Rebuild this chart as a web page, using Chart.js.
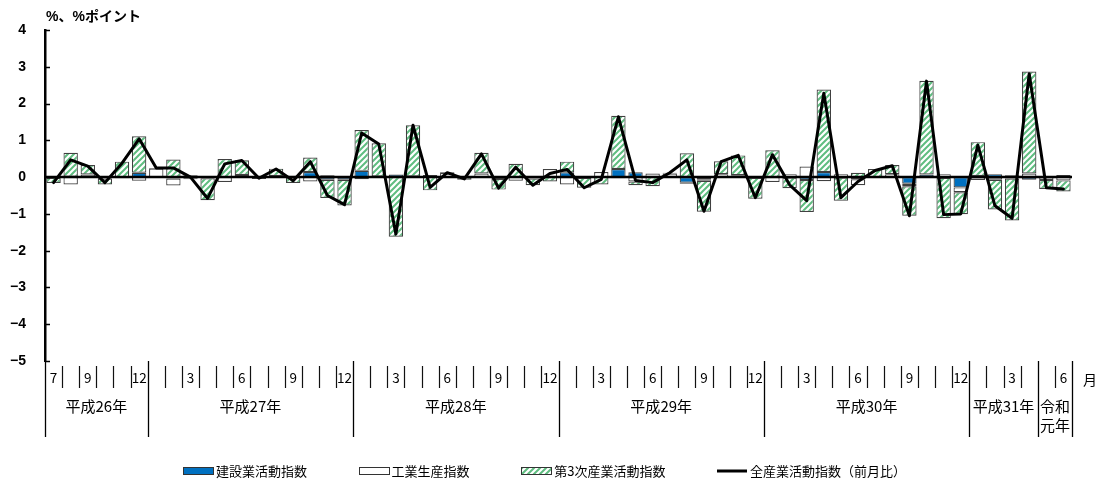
<!DOCTYPE html>
<html><head><meta charset="utf-8">
<script src="https://cdn.jsdelivr.net/npm/chart.js@4/dist/chart.umd.min.js"></script>
<style>html,body{margin:0;padding:0;background:#fff;}canvas{display:block;}</style>
</head><body>
<canvas id="c" width="1104" height="484"></canvas>
<script>
// ---- data ----
const categories = [
 '2014/7','2014/8','2014/9','2014/10','2014/11','2014/12',
 '2015/1','2015/2','2015/3','2015/4','2015/5','2015/6','2015/7','2015/8','2015/9','2015/10','2015/11','2015/12',
 '2016/1','2016/2','2016/3','2016/4','2016/5','2016/6','2016/7','2016/8','2016/9','2016/10','2016/11','2016/12',
 '2017/1','2017/2','2017/3','2017/4','2017/5','2017/6','2017/7','2017/8','2017/9','2017/10','2017/11','2017/12',
 '2018/1','2018/2','2018/3','2018/4','2018/5','2018/6','2018/7','2018/8','2018/9','2018/10','2018/11','2018/12',
 '2019/1','2019/2','2019/3','2019/4','2019/5','2019/6'];
const monthTickLabels = [
 '7','','9','','','12',
 '','','3','','','6','','','9','','','12',
 '','','3','','','6','','','9','','','12',
 '','','3','','','6','','','9','','','12',
 '','','3','','','6','','','9','','','12',
 '','','3','','','6'];
const yearLabels = ['平成26年','平成27年','平成28年','平成29年','平成30年','平成31年','令和\n元年'];
const yearSpans = [6,12,12,12,12,4,2];
const yTickValues = [-5,-4,-3,-2,-1,0,1,2,3,4];
const unitLabel = '%、%ポイント';
const monthUnit = '月';

const construction = [
 0.00,0.01,0.00,0.00,0.00,0.12,
 0.00,-0.04,0.05,0.00,0.00,0.01,0.00,0.00,0.00,0.14,-0.07,-0.07,
 0.17,0.02,0.07,0.02,0.06,0.00,0.00,0.00,-0.05,0.00,-0.04,0.00,
 0.13,-0.02,0.00,0.22,0.13,0.00,0.00,-0.15,-0.06,0.00,0.00,0.00,
 0.00,-0.01,-0.08,0.14,-0.01,-0.06,-0.02,0.00,-0.18,0.07,-0.02,-0.28,
 0.03,0.08,0.05,-0.07,0.03,0.06];
const industry = [
 -0.02,-0.20,0.07,-0.04,-0.03,-0.10,
 0.23,-0.19,-0.03,-0.03,-0.13,0.05,-0.05,0.03,0.04,-0.12,0.05,0.02,
 -0.06,0.00,0.00,0.00,0.00,0.12,0.03,0.10,0.00,-0.10,0.00,0.22,
 -0.20,0.00,0.14,-0.03,-0.12,0.10,0.10,-0.03,-0.04,0.08,0.05,-0.02,
 -0.13,0.08,0.29,-0.11,0.08,-0.16,0.00,0.08,-0.07,-0.02,0.08,-0.13,
 -0.08,-0.07,-0.04,0.10,-0.08,-0.09];
const tertiary = [
 -0.14,0.65,0.26,-0.16,0.42,0.99,
 0.02,0.48,-0.03,-0.60,0.49,0.40,0.03,0.20,-0.16,0.39,-0.50,-0.70,
 1.11,0.90,-1.62,1.39,-0.36,0.02,-0.07,0.56,-0.29,0.36,-0.18,-0.12,
 0.29,-0.27,-0.20,1.45,-0.10,-0.25,0.02,0.65,-0.84,0.35,0.54,-0.57,
 0.73,-0.29,-0.87,2.24,-0.63,0.12,0.22,0.25,-0.80,2.55,-1.10,-0.60,
 0.92,-0.81,-1.14,2.77,-0.24,-0.30];
const allIndustry = [
 -0.15,0.47,0.30,-0.15,0.38,1.04,
 0.25,0.25,0.00,-0.58,0.36,0.45,-0.03,0.22,-0.10,0.42,-0.50,-0.75,
 1.20,0.90,-1.55,1.41,-0.28,0.12,-0.05,0.63,-0.30,0.27,-0.22,0.10,
 0.21,-0.29,-0.06,1.64,-0.09,-0.15,0.12,0.47,-0.93,0.42,0.59,-0.56,
 0.61,-0.21,-0.64,2.28,-0.56,-0.12,0.18,0.31,-1.05,2.61,-1.02,-1.00,
 0.87,-0.78,-1.12,2.81,-0.29,-0.32];
const seriesNames = ['建設業活動指数','工業生産指数','第3次産業活動指数','全産業活動指数（前月比）'];

// ---- styles ----
function makeHatch(){
  const c=document.createElement('canvas'); c.width=6; c.height=6;
  const g=c.getContext('2d'); g.fillStyle='#fff'; g.fillRect(0,0,6,6);
  g.strokeStyle='#5fbd80'; g.lineWidth=2;
  g.beginPath();
  g.moveTo(-1,7); g.lineTo(7,-1);
  g.moveTo(-4,4); g.lineTo(4,-4);
  g.moveTo(2,10); g.lineTo(10,2);
  g.stroke();
  return g.createPattern(c,'repeat');
}
const hatch = makeHatch();
const CJK = "'Noto Sans CJK JP', sans-serif";

const barCommon = {type:'bar', stack:'s', borderColor:'#404040', borderWidth:1.2, borderSkipped:false,
  barPercentage:0.84, categoryPercentage:1.0, order:1};

const tablePlugin = {
  id:'tablePlugin',
  beforeDatasetDraw(chart,args){
    if(args.index!==3) return;
    const ctx=chart.ctx, ca=chart.chartArea, y=chart.scales.y;
    const y0=y.getPixelForValue(0);
    ctx.save(); ctx.strokeStyle='#000'; ctx.lineWidth=2.5;
    ctx.beginPath(); ctx.moveTo(ca.left,y0); ctx.lineTo(ca.right,y0); ctx.stroke(); ctx.restore();
  },
  afterDraw(chart){
    const ctx=chart.ctx, ca=chart.chartArea, x=chart.scales.x, y=chart.scales.y;
    ctx.save();
    // inner y ticks
    ctx.strokeStyle='#000'; ctx.lineWidth=1.5;
    yTickValues.forEach(v=>{ const py=Math.round(y.getPixelForValue(v))+0.5;
      ctx.beginPath(); ctx.moveTo(ca.left,py); ctx.lineTo(ca.left+5,py); ctx.stroke(); });
    // unit label
    ctx.fillStyle='#000'; ctx.font="bold 14px 'Liberation Sans', 'Noto Sans CJK JP'";
    ctx.textAlign='left'; ctx.textBaseline='middle';
    ctx.fillText(unitLabel, ca.left+1, 17);
    // category table
    const n=categories.length;
    const w=x.getPixelForValue(1)-x.getPixelForValue(0);
    const yearStarts=new Set(); let acc=0; yearStarts.add(0);
    yearSpans.forEach(s=>{acc+=s; yearStarts.add(acc);});
    for(let i=0;i<=n;i++){
      const bx = (i<n? x.getPixelForValue(i)-w/2 : x.getPixelForValue(n-1)+w/2);
      const px=Math.round(bx)+0.5;
      ctx.beginPath();
      if(yearStarts.has(i)){ ctx.strokeStyle='#000'; ctx.lineWidth=1.3; ctx.moveTo(px,ca.bottom); ctx.lineTo(px,437); }
      else { ctx.strokeStyle='#111'; ctx.lineWidth=1.2; ctx.moveTo(px,366); ctx.lineTo(px,388); }
      ctx.stroke();
    }
    ctx.font="13.5px "+CJK; ctx.textAlign='center'; ctx.textBaseline='middle'; ctx.fillStyle='#000';
    monthTickLabels.forEach((t,i)=>{ if(t) ctx.fillText(t, x.getPixelForValue(i), 378); });
    ctx.font="15px "+CJK;
    let start=0;
    yearLabels.forEach((lab,k)=>{
      const a=x.getPixelForValue(start)-w/2, b=x.getPixelForValue(start+yearSpans[k]-1)+w/2;
      const lines=lab.split('\n');
      lines.forEach((ln,j)=>ctx.fillText(ln,(a+b)/2, 406+j*19));
      start+=yearSpans[k];
    });
    ctx.font="14px "+CJK; ctx.fillText(monthUnit, 1090, 380);
    // legend
    ctx.font="13px "+CJK; ctx.textAlign='left';
    const ly=471, sw=30, gap=3, x0=183, x1=906;
    const widths=seriesNames.map(s=>sw+gap+ctx.measureText(s).width);
    const sp=(x1-x0-widths.reduce((a,b)=>a+b,0))/(seriesNames.length-1);
    let lx=x0;
    const ds=chart.data.datasets;
    seriesNames.forEach((s,k)=>{
      const d=ds[k];
      if(d.type==='line'){
        ctx.strokeStyle='#000'; ctx.lineWidth=3; ctx.beginPath(); ctx.moveTo(lx,ly); ctx.lineTo(lx+sw,ly); ctx.stroke();
      } else {
        ctx.fillStyle=d.backgroundColor; ctx.fillRect(lx,ly-3.5,sw,7);
        ctx.strokeStyle='#333'; ctx.lineWidth=1; ctx.strokeRect(Math.round(lx)+0.5,ly-3.5,sw,7);
      }
      ctx.fillStyle='#000'; ctx.fillText(s, lx+sw+gap, ly);
      lx+=widths[k]+sp;
    });
    ctx.restore();
  }
};

new Chart(document.getElementById('c'), {
  data:{ labels:categories, datasets:[
    Object.assign({}, barCommon, {label:seriesNames[0], data:construction, backgroundColor:'#0070c0'}),
    Object.assign({}, barCommon, {label:seriesNames[1], data:industry, backgroundColor:'#ffffff'}),
    Object.assign({}, barCommon, {label:seriesNames[2], data:tertiary, backgroundColor:hatch}),
    {type:'line', label:seriesNames[3], data:allIndustry, stack:'total', borderColor:'#000', borderWidth:3,
     borderJoinStyle:'round', borderCapStyle:'round',
     pointRadius:0, tension:0, fill:false, order:0}
  ]},
  options:{
    responsive:false, animation:false, devicePixelRatio:1,
    layout:{padding:{left:0,right:32,top:30,bottom:123}},
    plugins:{legend:{display:false}, tooltip:{enabled:false}, title:{display:false}},
    scales:{
      x:{display:false, stacked:true, offset:true},
      y:{stacked:true, min:-5, max:4,
         afterFit(s){ s.width=45; },
         afterBuildTicks(s){ s.ticks=yTickValues.map(v=>({value:v})); },
         grid:{display:false, drawTicks:false},
         border:{display:true, color:'#000', width:2.5},
         ticks:{padding:19, color:'#000', font:{family:"'Liberation Sans'", size:14, weight:'bold'},
           callback:(v)=> v<0 ? '\u2212'+Math.abs(v) : String(v)}
      }
    }
  },
  plugins:[tablePlugin]
});
</script>
</body></html>
